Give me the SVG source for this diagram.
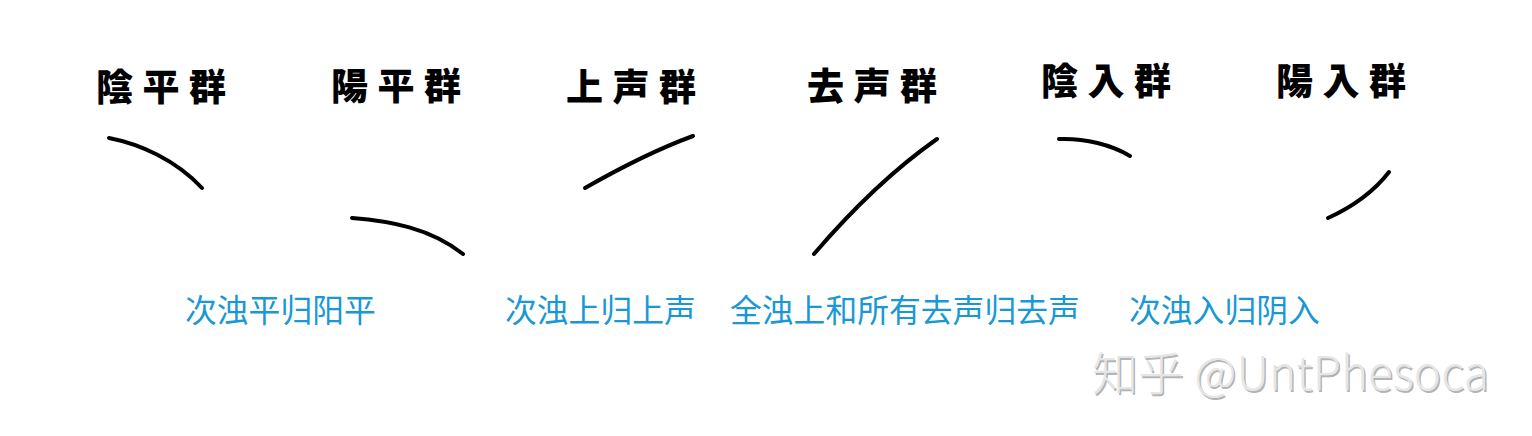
<svg xmlns="http://www.w3.org/2000/svg" width="1532" height="436" viewBox="0 0 1532 436">
  <style>
    .head { font-family: "Noto Sans CJK JP", "Noto Sans CJK TC", sans-serif; font-weight: 900; font-size: 37px; fill: #000; letter-spacing: 9.5px; }
    .curve { fill: none; stroke: #000; stroke-width: 4; stroke-linecap: round; }
    .label { font-family: "Noto Sans CJK SC", sans-serif; font-size: 31.8px; fill: #1a98d5; }
    .wm { font-family: "Noto Sans CJK SC", "Noto Sans", sans-serif; font-size: 46px; font-weight: 300; }
  </style>
  <rect width="1532" height="436" fill="#fff"/>

  <g id="node-yinping">
    <text class="head" x="96" y="101">陰平群</text>
    <path class="curve" d="M109,138 C140,144 176,160 202,188"/>
  </g>
  <g id="node-yangping">
    <text class="head" x="331" y="100">陽平群</text>
    <path class="curve" d="M352,218 C390,221 430,228 463,254"/>
  </g>
  <g id="node-shangsheng">
    <text class="head" x="566" y="101">上声群</text>
    <path class="curve" d="M585,188 C620,168 655,150 693,136"/>
  </g>
  <g id="node-qusheng">
    <text class="head" x="807" y="100">去声群</text>
    <path class="curve" d="M814,254 C850,212 890,172 937,139"/>
  </g>
  <g id="node-yinru">
    <text class="head" x="1041" y="95">陰入群</text>
    <path class="curve" d="M1059,139 C1085,138 1112,145 1130,156"/>
  </g>
  <g id="node-yangru">
    <text class="head" x="1276" y="95">陽入群</text>
    <path class="curve" d="M1328,218 C1350,208 1372,194 1389,172"/>
  </g>

  <g id="labels">
    <text class="label" x="185" y="322">次浊平归阳平</text>
    <text class="label" x="505" y="322">次浊上归上声</text>
    <text class="label" x="730" y="322">全浊上和所有去声归去声</text>
    <text class="label" x="1129" y="322">次浊入归阴入</text>
  </g>

  <g id="watermark">
    <text class="wm" x="1093.5" y="391.5" fill="#b4b4b4" textLength="397" lengthAdjust="spacing">知乎 @UntPhesoca</text>
    <text class="wm" x="1092" y="390" fill="#e6e6e6" textLength="397" lengthAdjust="spacing">知乎 @UntPhesoca</text>
  </g>
</svg>
